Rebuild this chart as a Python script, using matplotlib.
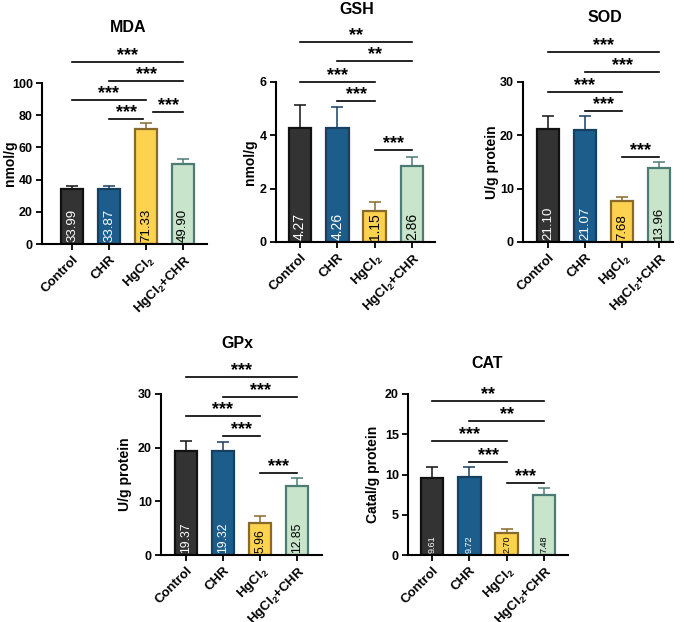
import matplotlib
matplotlib.use('Agg')
import matplotlib.pyplot as plt

plt.rcParams['font.family'] = ['Liberation Sans', 'DejaVu Sans']
plt.rcParams['mathtext.fontset'] = 'custom'
plt.rcParams['mathtext.rm'] = 'Liberation Sans:bold'
plt.rcParams['mathtext.default'] = 'rm'

# groups and values
groups = ['Control', 'CHR', 'HgCl$_2$', 'HgCl$_2$+CHR']

mda_mean = [33.99, 33.87, 71.33, 49.90]
mda_err = [2.0, 2.1, 3.7, 2.7]
gsh_mean = [4.27, 4.26, 1.15, 2.86]
gsh_err = [0.86, 0.81, 0.35, 0.34]
sod_mean = [21.10, 21.07, 7.68, 13.96]
sod_err = [2.5, 2.5, 0.8, 1.1]
gpx_mean = [19.37, 19.32, 5.96, 12.85]
gpx_err = [1.8, 1.8, 1.3, 1.5]
cat_mean = [9.61, 9.72, 2.70, 7.48]
cat_err = [1.3, 1.2, 0.5, 0.9]

# pairwise comparisons (i, j) and significance labels
pairs = [(0, 3), (1, 3), (0, 2), (1, 2), (2, 3)]
mda_sig = ['***', '***', '***', '***', '***']
gsh_sig = ['**', '**', '***', '***', '***']
sod_sig = ['***', '***', '***', '***', '***']
gpx_sig = ['***', '***', '***', '***', '***']
cat_sig = ['**', '**', '***', '***', '***']

fills = ['#333333', '#1c5d8c', '#fcd24e', '#c8e5cb']
edges = ['#111111', '#173f5f', '#8a6a2a', '#4d7c75']
txtcol = ['white', 'white', 'black', 'black']

W, H = 685, 622
fig = plt.figure(figsize=(W / 100, H / 100), dpi=100)


def panel(title, ylabel, mean, err, sig, ytop, ystep, bracket_y, px, title_xy,
          ylab_x, val_fs, pads=None):
    # px = (yaxis_x, xaxis_y, top_y, first_bar_x, last_bar_x, xend)
    yx, xy, ty, b0, b3, xe = px
    ax = fig.add_axes([yx / W, 1 - xy / H, (xe - yx) / W, (xy - ty) / H])
    s = (b3 - b0) / 3
    ax.set_xlim(-(b0 - yx) / s, 3 + (xe - b3) / s)
    ax.set_ylim(0, ytop)
    x = range(4)
    ax.bar(x, mean, width=0.6, color=fills, edgecolor=edges, linewidth=1.6,
           zorder=2)
    for i in x:
        ax.errorbar(i, mean[i], yerr=[[0], [err[i]]], fmt='none',
                    ecolor=edges[i], elinewidth=1.1, capsize=4, capthick=1.1,
                    zorder=1)
        ax.text(i, ytop * 0.012, f'{mean[i]:.2f}', rotation=90, ha='center',
                va='bottom', color=txtcol[i], fontsize=val_fs, zorder=3)
    if pads is None:
        pads = [(0, 0)] * len(pairs)
    for (i, j), lab, y, (pl, pr) in zip(pairs, sig, bracket_y, pads):
        ax.plot([i + pl, j - pr], [y, y], color='black', lw=1.2, clip_on=False)
        ax.annotate(lab, xy=((i + pl + j - pr) / 2, y), xytext=(0, -1.5),
                    textcoords='offset points', ha='center', va='bottom',
                    fontsize=13, fontweight='bold', annotation_clip=False)
    ax.set_yticks([ystep * k for k in range(int(round(ytop / ystep)) + 1)])
    ax.set_xticks(list(x))
    ax.set_xticklabels(groups, rotation=45, ha='right', rotation_mode='anchor',
                       fontsize=9.5, fontweight='bold')
    for t in ax.get_yticklabels():
        t.set_fontweight('bold')
        t.set_fontsize(9)
    ax.tick_params(width=1.3, length=4, direction='out', pad=2.5)
    for sp in ['top', 'right']:
        ax.spines[sp].set_visible(False)
    for sp in ['left', 'bottom']:
        ax.spines[sp].set_linewidth(1.5)
    ax.set_ylabel(ylabel, fontsize=10, fontweight='bold')
    ax.yaxis.label.set_va('center')
    ax.yaxis.set_label_coords((ylab_x - yx) / (xe - yx), 0.5)
    fig.text(title_xy[0] / W, 1 - title_xy[1] / H, title, ha='center',
             va='center', fontsize=11.5, fontweight='bold')
    return ax


panel('MDA', 'nmol/g', mda_mean, mda_err, mda_sig, 100, 20,
      [113, 101, 89.4, 77.6, 82], (42, 244, 83, 72, 183, 207), (128, 27), 10, 9.5,
      pads=[(0, 0), (0, 0), (0, 0), (0, 0.08), (0.19, 0)])
panel('GSH', 'nmol/g', gsh_mean, gsh_err, gsh_sig, 6, 2,
      [7.5, 6.79, 6.0, 5.29, 3.45], (276, 242, 82, 300, 412, 435), (357, 9), 250, 10)
panel('SOD', 'U/g protein', sod_mean, sod_err, sod_sig, 30, 10,
      [35.6, 31.9, 28.1, 24.6, 15.9], (523, 242, 82, 548, 659, 673), (605, 17), 492, 9.5)
panel('GPx', 'U/g protein', gpx_mean, gpx_err, gpx_sig, 30, 10,
      [33.2, 29.4, 25.9, 22.1, 15.2], (161, 555, 394, 186, 297, 322), (237, 343), 125, 8.7)
panel('CAT', 'Catal/g protein', cat_mean, cat_err, cat_sig, 20, 5,
      [19.1, 16.6, 14.1, 11.6, 9.0], (408, 555, 394, 432, 544, 568), (487, 364), 373, 6.5)

fig.savefig('out.png', dpi=100)
